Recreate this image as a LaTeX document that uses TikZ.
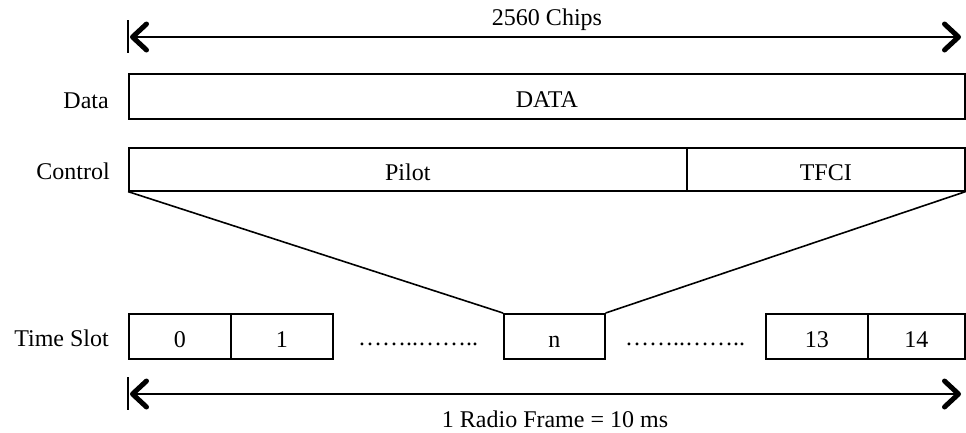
\documentclass[tikz,border=0pt]{standalone}
\usepackage{fontspec}
\setmainfont{Liberation Serif}
\usetikzlibrary{arrows.meta}
\begin{document}
\begin{tikzpicture}[x=1pt,y=-1pt,
  lbl/.style={font=\fontsize{24}{26}\selectfont, inner sep=0pt},
  boxline/.style={draw=black, line width=1.6pt},
  tipstyle/.tip={Straight Barb[length=14pt,width=26pt,line width=5pt,round]},
  dim/.style={line width=1.6pt, {tipstyle}-{tipstyle}, shorten <=2pt, shorten >=3pt},
  barline/.style={line width=1.8pt},
  cell/.style={boxline, inner sep=0pt, font=\fontsize{24}{26}\selectfont, text height=22pt, text depth=0pt, anchor=north west},
  slot/.style={cell, minimum width=102pt, minimum height=45pt}
]
\useasboundingbox (0,0) rectangle (966,432);
% top dimension
\coordinate (tl) at (128,37);
\coordinate (tr) at (964,37);
\coordinate (tlb1) at (128,20);
\coordinate (tlb2) at (128,53);
\draw[barline] (tlb1) -- (tlb2);
\draw[dim] (tl) -- (tr);
\node[lbl, anchor=base] (chips) at (547,25) {2560 Chips};
% data
\node[cell, minimum width=836pt, minimum height=45pt] (data) at (128,73) {DATA};
\node[lbl, anchor=base east] (datal) at (109,108) {Data};
% control
\node[cell, minimum width=558pt, minimum height=43pt] (pilot) at (128,147) {Pilot};
\node[cell, minimum width=278pt, minimum height=43pt] (tfci) at (686,147) {TFCI};
\node[lbl, anchor=base east] (ctrll) at (110,179) {Control};
% slots
\node[slot] (s0) at (128,313) {0};
\node[slot] (s1) at (230,313) {1};
\node[lbl, anchor=base] (dots1) at (418,345) {……..……..};
\node[slot, minimum width=101pt] (sn) at (503,313) {n};
\node[lbl, anchor=base] (dots2) at (685,345) {……..……..};
\node[slot] (s13) at (765,313) {13};
\node[slot, minimum width=97pt] (s14) at (867,313) {14};
\node[lbl, anchor=base east] (tsl) at (109,346) {Time Slot};
% zoom lines
\draw[line width=1.6pt] (pilot.south west) -- (sn.north west);
\draw[line width=1.6pt] (tfci.south east) -- (sn.north east);
% bottom dimension
\coordinate (bl) at (128,394);
\coordinate (br) at (964,394);
\coordinate (blb1) at (128,377);
\coordinate (blb2) at (128,410);
\draw[barline] (blb1) -- (blb2);
\draw[dim] (bl) -- (br);
\node[lbl, anchor=base] (frame) at (555,427) {1 Radio Frame = 10 ms};
\end{tikzpicture}
\end{document}
